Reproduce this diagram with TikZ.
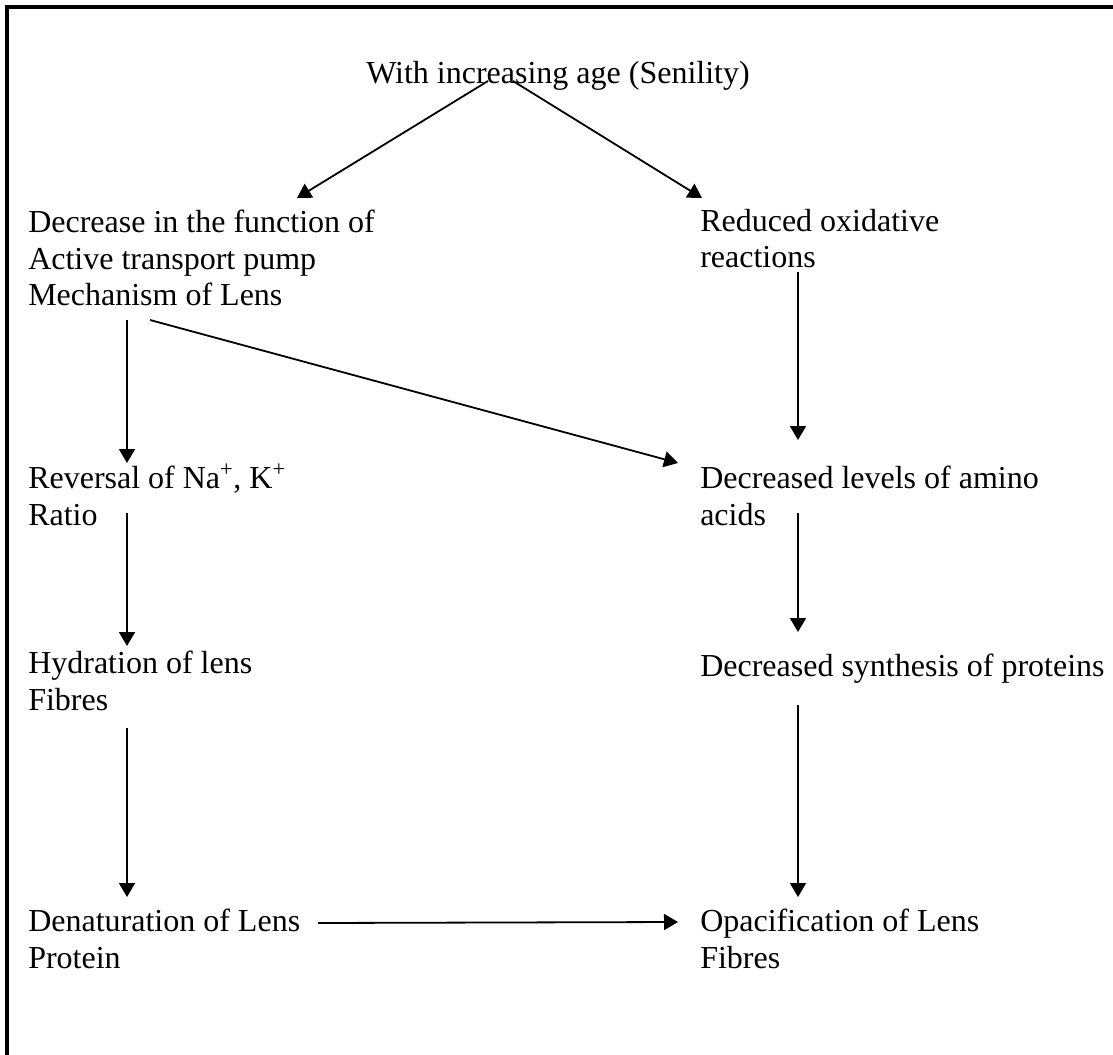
\documentclass[tikz,border=0pt]{standalone}
\usepackage{fontspec}
\setmainfont{Liberation Serif}
\usetikzlibrary{arrows.meta, positioning}

\begin{document}
\begin{tikzpicture}[
    x=0.75pt, y=-0.75pt,
    every node/.style={font=\fontsize{24}{27.6}\selectfont, align=left},
    txt/.style={anchor=base west, inner sep=0pt},
    arr/.style={-{Triangle[length=10.5pt, width=12pt]}, line width=1.35pt},
    frame/.style={line width=2.4pt}
]
\useasboundingbox (0,0) rectangle (1113,1055);
\draw[frame] (7,1055) -- (7,7) -- (1113,7);

% nodes sit on the baseline of their last line
\node[txt] (age)   at (366, 84) {With increasing age (Senility)};
\node[txt] (pump)  at ( 28,306) {Decrease in the function of\\Active transport pump\\Mechanism of Lens};
\node[txt] (oxid)  at (700,268) {Reduced oxidative\\reactions};
\node[txt] (ratio) at ( 28,525) {Reversal of Na\textsuperscript{+}, K\textsuperscript{+}\\Ratio};
\node[txt] (amino) at (700,525) {Decreased levels of amino\\acids};
\node[txt] (hydr)  at ( 28,710) {Hydration of lens\\Fibres};
\node[txt] (synth) at (700,676) {Decreased synthesis of proteins};
\node[txt] (denat) at ( 28,968) {Denaturation of Lens\\Protein};
\node[txt] (opac)  at (700,968) {Opacification of Lens\\Fibres};

\draw[arr] ([shift={(122,-3)}]age.base west) -- ([shift={(269,-108)}]pump.base west);
\draw[arr] ([shift={(147,-3)}]age.base west) -- ([shift={(2,-70)}]oxid.base west);
\draw[arr] ([shift={(99,14)}]pump.base west) -- ([shift={(99,-62)}]ratio.base west);
\draw[arr] ([shift={(122,14)}]pump.base west) -- ([shift={(-22,-62)}]amino.base west);
\draw[arr] ([shift={(98,4)}]oxid.base west) -- ([shift={(98,-85)}]amino.base west);
\draw[arr] ([shift={(99,-12)}]ratio.base west) -- ([shift={(99,-64)}]hydr.base west);
\draw[arr] ([shift={(98,-12)}]amino.base west) -- ([shift={(98,-44)}]synth.base west);
\draw[arr] ([shift={(99,18)}]hydr.base west) -- ([shift={(99,-71)}]denat.base west);
\draw[arr] ([shift={(98,29)}]synth.base west) -- ([shift={(98,-71)}]opac.base west);
\draw[arr] ([shift={(290,-45)}]denat.base west) -- ([shift={(-22,-46)}]opac.base west);
\end{tikzpicture}
\end{document}
